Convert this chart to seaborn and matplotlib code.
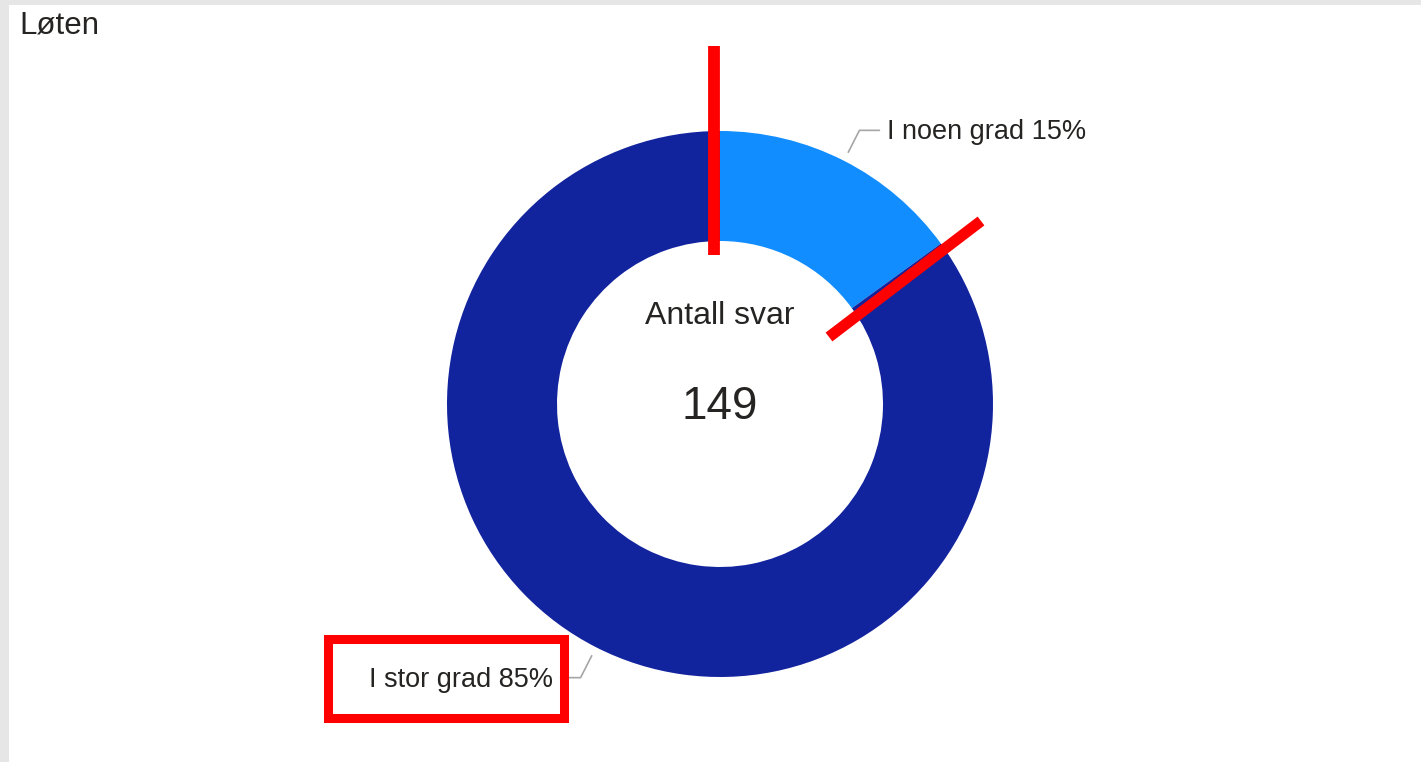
import numpy as np
import matplotlib
matplotlib.use("Agg")
import matplotlib.pyplot as plt
from matplotlib.patches import Rectangle
import seaborn as sns

# data
categories = ["I noen grad", "I stor grad"]
shares = [15, 85]
colors = ["#118DFF", "#12239E"]
title = "Løten"
center_label = "Antall svar"
total_answers = 149

sns.set_theme(style="white")
plt.rcParams['font.family'] = ['Liberation Sans', 'DejaVu Sans']

W, H = 1421, 762
fig = plt.figure(figsize=(W / 100, H / 100), dpi=100)
ax = fig.add_axes([0, 0, 1, 1])
ax.set_xlim(0, W)
ax.set_ylim(0, H)
ax.axis("off")

# grey frame of the report page
ax.add_patch(Rectangle((0, H - 5), W, 5, color="#e6e6e6", lw=0, zorder=0))
ax.add_patch(Rectangle((0, 0), 9, H, color="#e6e6e6", lw=0, zorder=0))

cx, cy, R, ring = 720, H - 404, 273, 110
wedges, _ = ax.pie(shares, colors=colors, startangle=90, counterclock=False,
                   center=(cx, cy), radius=R,
                   wedgeprops=dict(width=ring, linewidth=0))
ax.set_xlim(0, W)
ax.set_ylim(0, H)
ax.set_aspect("equal")

txt_col = "#252423"
for w, cat, val in zip(wedges, categories, shares):
    mid = np.deg2rad((w.theta1 + w.theta2) / 2)
    c, s = np.cos(mid), np.sin(mid)
    p0 = (cx + 1.035 * R * c, cy + 1.035 * R * s)
    p1 = (cx + 1.125 * R * c, cy + 1.125 * R * s)
    side = 1 if c > 0 else -1
    p2 = (p1[0] + side * 20, p1[1])
    ax.plot([p0[0], p1[0], p2[0]], [p0[1], p1[1], p2[1]],
            color="#a6a6a6", lw=1.2, zorder=3)
    ax.text(p2[0] + side * 8, p2[1] - 2, f"{cat} {val}%",
            ha="left" if side > 0 else "right", va="center",
            fontsize=19.5, color=txt_col)

ax.text(cx, H - 316, center_label, ha="center", va="center",
        fontsize=23, color=txt_col)
ax.text(cx, H - 407, str(total_answers), ha="center", va="center",
        fontsize=33, color=txt_col)

fig.text(19 / W, 1 - 25 / H, title, ha="left", va="center",
         fontsize=22.5, color=txt_col)

# red annotation marks
ax.plot([713.5, 713.5], [H - 46, H - 255], color="#ff0000", lw=8.5,
        solid_capstyle="butt", zorder=5)
ax.plot([829, 981], [H - 337, H - 221], color="#ff0000", lw=8,
        solid_capstyle="butt", zorder=5)
ax.add_patch(Rectangle((327.5, H - 717.5), 236, 79, fill=False,
                       edgecolor="#ff0000", lw=6.5, zorder=5))

fig.savefig("out.png", dpi=100)
